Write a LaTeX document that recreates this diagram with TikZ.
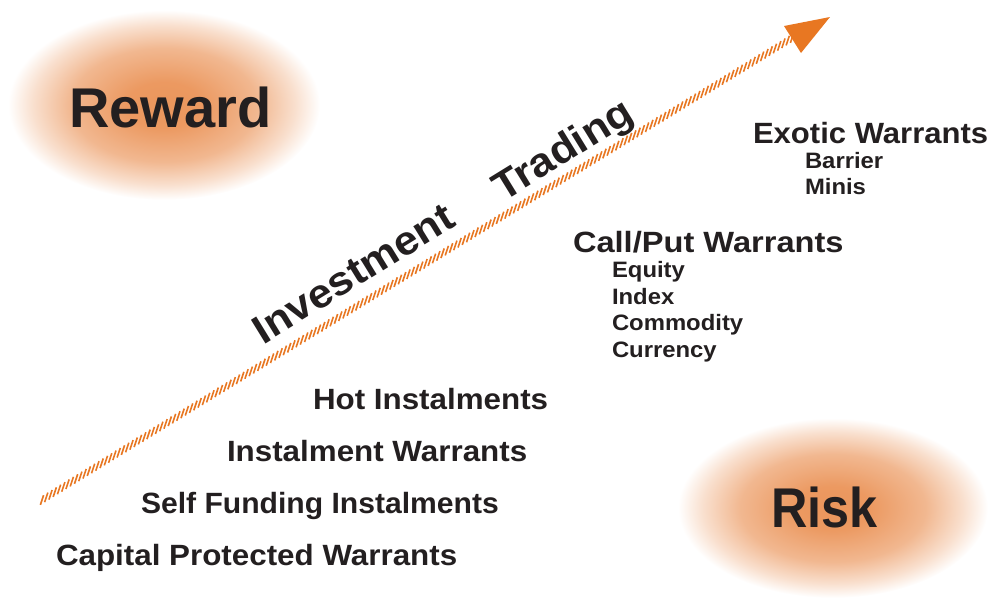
\documentclass[tikz,border=0pt]{standalone}
\usepackage{fontspec}
\setmainfont{Liberation Sans}
\usetikzlibrary{calc}
\definecolor{glowc}{RGB}{235,150,92}
\definecolor{arroworange}{RGB}{232,119,34}
\definecolor{ink}{RGB}{35,31,32}
\pgfdeclareradialshading{glow}{\pgfpoint{0bp}{0bp}}{%
  color(0bp)=(glowc); color(6bp)=(glowc!97!white); color(15bp)=(glowc!68!white);
  color(21bp)=(glowc!30!white); color(25bp)=(white); color(50bp)=(white)}
\begin{document}
\begin{tikzpicture}[x=1pt,y=-1pt,
  every node/.style={inner sep=0pt,outer sep=0pt,anchor=base west,text=ink},
  bigword/.style={font=\fontsize{56}{60}\selectfont\bfseries},
  headword/.style={font=\fontsize{29.3}{32}\selectfont\bfseries,xscale=1.07},
  subword/.style={font=\fontsize{22.3}{24}\selectfont\bfseries,xscale=1.07},
  diagword/.style={font=\fontsize{40.5}{44}\selectfont\bfseries,rotate=31.6,xscale=1.07},
  hatch/.style={draw=arroworange,line width=1.6pt},
  glowblob/.style={shading=glow}]
\useasboundingbox (0,0) rectangle (996,598);
% glows
\shade[glowblob] (164,105) ellipse [x radius=156, y radius=95];
\shade[glowblob] (833,508) ellipse [x radius=155, y radius=90];
% arrow
\coordinate (tail) at (42,500);
\coordinate (shaftend) at (792,38);
\coordinate (hl) at (784,26);
\coordinate (tip) at (830,17);
\coordinate (hr) at (801,53);
\foreach \i in {0,...,176}{
  \path[hatch] ($(tail)!\i/176!(shaftend)$) +(-1.6,4.8) -- +(1.6,-4.8);
}
\fill[arroworange] (hl) -- (tip) -- (hr) -- cycle;
% labels
\node[bigword] (reward) at (69,127) {Reward};
\node[bigword,xscale=0.9] (risk) at (771,527) {Risk};
\node[diagword] (invest) at (263,345) {Investment};
\node[diagword] (trading) at (503,202) {Trading};
\node[headword,xscale=0.99] (exotic) at (753,143) {Exotic Warrants};
\node[subword] (barrier) at (805,168) {Barrier};
\node[subword] (minis) at (805,194) {Minis};
\node[headword,xscale=1.04] (callput) at (573,252) {Call/Put Warrants};
\node[subword] (equity) at (612,277.5) {Equity};
\node[subword] (index) at (612,304) {Index};
\node[subword] (commodity) at (612,330.5) {Commodity};
\node[subword] (currency) at (612,357) {Currency};
\node[headword] (hot) at (313,409) {Hot Instalments};
\node[headword] (instal) at (227,461) {Instalment Warrants};
\node[headword,xscale=0.96] (self) at (141,513.5) {Self Funding Instalments};
\node[headword] (capital) at (56,565.5) {Capital Protected Warrants};
\end{tikzpicture}
\end{document}
